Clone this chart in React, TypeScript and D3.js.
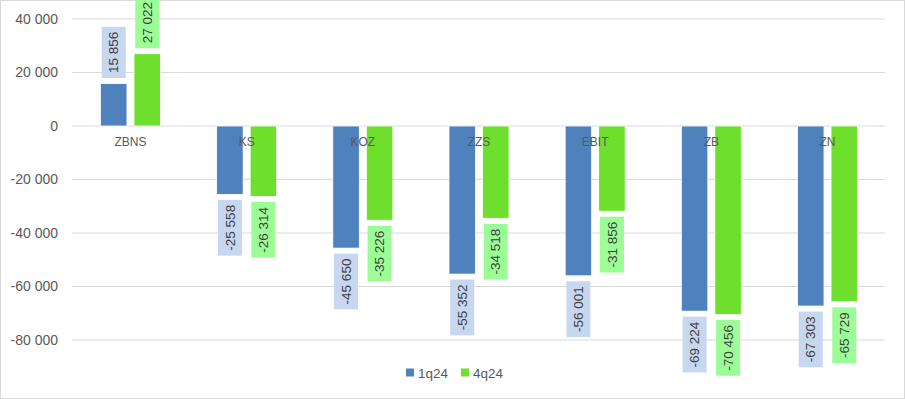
import * as d3 from "d3";

const categories = ["ZBNS", "KS", "KOZ", "ZZS", "EBIT", "ZB", "ZN"];
const seriesNames = ["1q24", "4q24"];
const values1q24 = [15856, -25558, -45650, -55352, -56001, -69224, -67303];
const values4q24 = [27022, -26314, -35226, -34518, -31856, -70456, -65729];
const yTicks = [40000, 20000, 0, -20000, -40000, -60000, -80000];

const W = 905;
const H = 399;
const barColors = ["#4f81bd", "#6ddf2c"];
const boxColors = ["#c6d7ef", "#9cfd97"];
const FONT = "'Liberation Sans', Arial, sans-serif";
const LABEL_SIZE = 13.5;

// "40 000" style numbers
const fmt = (v: number) => {
  const s = Math.abs(v).toString().replace(/\B(?=(\d{3})+(?!\d))/g, " ");
  return (v < 0 ? "-" : "") + s;
};

// rough text width for Liberation Sans
const textWidth = (s: string, size: number) =>
  s.split("").reduce((w, c) => w + (c === " " ? 0.278 : c === "-" ? 0.333 : 0.556) * size, 0);

export default function App() {
  const series = [values1q24, values4q24];

  const x = d3.scaleBand<string>().domain(categories).range([72.4, 885.6]);
  const inner = d3
    .scaleBand<number>()
    .domain([0, 1])
    .range([x.bandwidth() / 2 - 30, x.bandwidth() / 2 + 30])
    .paddingInner(0.21);
  const y = d3.scaleLinear().domain([-80000, 40000]).range([340, 19]);

  return (
    <svg
      width={W}
      height={H}
      style={{ position: "absolute", left: 0, top: 0, background: "#fff" }}
      fontFamily={FONT}
    >
      <rect x={0.5} y={0.5} width={W - 1} height={H - 1} fill="#fff" stroke="#d9d9d9" />

      {/* grid + y ticks */}
      {yTicks.map((t) => (
        <g key={t}>
          <line x1={72} x2={885} y1={y(t)} y2={y(t)} stroke="#d9d9d9" strokeWidth={1} />
          <text x={58} y={y(t)} dy="0.35em" textAnchor="end" fontSize={14} fill="#595959">
            {fmt(t)}
          </text>
        </g>
      ))}

      {/* bars */}
      {series.map((vals, si) =>
        vals.map((v, i) => {
          const bx = (x(categories[i]) as number) + (inner(si) as number);
          const y0 = y(0);
          const y1 = y(v);
          return (
            <rect
              key={`b${si}-${i}`}
              x={bx}
              y={Math.min(y0, y1)}
              width={inner.bandwidth()}
              height={Math.abs(y1 - y0)}
              fill={barColors[si]}
              stroke="#fff"
              strokeWidth={0.8}
            />
          );
        })
      )}

      {/* category labels */}
      {categories.map((c) => (
        <text
          key={c}
          x={(x(c) as number) + x.bandwidth() / 2}
          y={y(0) + 20}
          textAnchor="middle"
          fontSize={12}
          fill="#595959"
        >
          {c}
        </text>
      ))}

      {/* data labels */}
      {series.map((vals, si) =>
        vals.map((v, i) => {
          const label = fmt(v);
          const cx =
            (x(categories[i]) as number) + (inner(si) as number) + inner.bandwidth() / 2;
          const boxH = textWidth(label, LABEL_SIZE) + 10;
          const boxW = 24;
          const end = y(v);
          const top = v >= 0 ? end - 5.5 - boxH : end + 5.5;
          const cy = top + boxH / 2;
          return (
            <g key={`l${si}-${i}`}>
              <rect x={cx - boxW / 2} y={top} width={boxW} height={boxH} fill={boxColors[si]} />
              <text
                transform={`translate(${cx},${cy}) rotate(-90)`}
                textAnchor="middle"
                dy="0.35em"
                fontSize={LABEL_SIZE}
                fill="#404040"
              >
                {label}
              </text>
            </g>
          );
        })
      )}

      {/* legend */}
      {seriesNames.map((n, si) => {
        const lx = 406 + si * 55;
        return (
          <g key={n}>
            <rect x={lx} y={368.5} width={8} height={8} fill={barColors[si]} />
            <text x={lx + 12} y={373} dy="0.35em" fontSize={13.5} fill="#595959">
              {n}
            </text>
          </g>
        );
      })}
    </svg>
  );
}
